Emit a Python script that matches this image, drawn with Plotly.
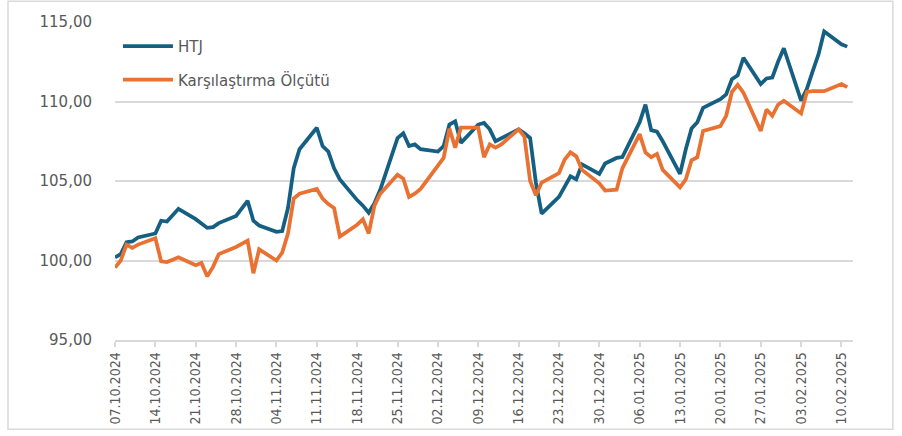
import pandas as pd
import plotly.graph_objects as go

dates = [
    "07.10.2024", "08.10.2024", "09.10.2024", "10.10.2024", "11.10.2024",
    "14.10.2024", "15.10.2024", "16.10.2024", "17.10.2024", "18.10.2024",
    "21.10.2024", "22.10.2024", "23.10.2024", "24.10.2024", "25.10.2024",
    "28.10.2024", "30.10.2024", "31.10.2024", "01.11.2024",
    "04.11.2024", "05.11.2024", "06.11.2024", "07.11.2024", "08.11.2024",
    "11.11.2024", "12.11.2024", "13.11.2024", "14.11.2024", "15.11.2024",
    "18.11.2024", "19.11.2024", "20.11.2024", "21.11.2024", "22.11.2024",
    "25.11.2024", "26.11.2024", "27.11.2024", "28.11.2024", "29.11.2024",
    "02.12.2024", "03.12.2024", "04.12.2024", "05.12.2024", "06.12.2024",
    "09.12.2024", "10.12.2024", "11.12.2024", "12.12.2024", "13.12.2024",
    "16.12.2024", "17.12.2024", "18.12.2024", "19.12.2024", "20.12.2024",
    "23.12.2024", "24.12.2024", "25.12.2024", "26.12.2024", "27.12.2024",
    "30.12.2024", "31.12.2024", "02.01.2025", "03.01.2025",
    "06.01.2025", "07.01.2025", "08.01.2025", "09.01.2025", "10.01.2025",
    "13.01.2025", "14.01.2025", "15.01.2025", "16.01.2025", "17.01.2025",
    "20.01.2025", "21.01.2025", "22.01.2025", "23.01.2025", "24.01.2025",
    "27.01.2025", "28.01.2025", "29.01.2025", "30.01.2025", "31.01.2025",
    "03.02.2025", "04.02.2025", "05.02.2025", "06.02.2025", "07.02.2025",
    "10.02.2025", "11.02.2025",
]

htj = [
    100.2, 100.4, 101.15, 101.2, 101.45,
    101.7, 102.5, 102.45, 102.85, 103.25,
    102.6, 102.35, 102.05, 102.1, 102.35,
    102.8, 103.75, 102.5, 102.2,
    101.8, 101.85, 103.3, 105.8, 107.0,
    108.35, 107.2, 106.85, 105.8, 105.1,
    103.8, 103.45, 103.0, 103.6, 104.45,
    107.7, 108.0, 107.2, 107.3, 107.0,
    106.85, 107.2, 108.55, 108.75, 107.4,
    108.55, 108.65, 108.25, 107.5, 107.7,
    108.25, 108.0, 107.7, 104.9, 102.95,
    104.0, 104.6, 105.3, 105.1, 106.05,
    105.45, 106.1, 106.45, 106.5,
    108.7, 109.8, 108.2, 108.1, 107.5,
    105.45, 107.0, 108.3, 108.7, 109.6,
    110.15, 110.45, 111.4, 111.65, 112.75,
    111.1, 111.45, 111.5, 112.5, 113.35,
    110.05, 110.8, 111.9, 112.95, 114.4,
    113.6, 113.45,
]

olcut = [
    99.55, 100.0, 101.0, 100.8, 101.0,
    101.4, 99.95, 99.9, 100.05, 100.2,
    99.7, 99.85, 99.0, 99.6, 100.4,
    100.85, 101.25, 99.2, 100.7,
    100.0, 100.5, 101.7, 103.9, 104.2,
    104.5, 103.9, 103.55, 103.3, 101.5,
    102.25, 102.6, 101.7, 103.45, 104.2,
    105.4, 105.15, 104.0, 104.2, 104.5,
    106.0, 106.45, 108.3, 107.1, 108.35,
    108.35, 106.5, 107.3, 107.1, 107.3,
    108.25, 107.8, 105.0, 104.1, 104.9,
    105.5, 106.35, 106.8, 106.55, 105.7,
    104.85, 104.4, 104.45, 105.8,
    107.95, 106.8, 106.5, 106.7, 105.7,
    104.6, 105.1, 106.3, 106.5, 108.15,
    108.45, 109.1, 110.6, 111.05, 110.55,
    108.15, 109.5, 109.1, 109.8, 110.05,
    109.25, 110.6, 110.65, 110.65, 110.65,
    111.1, 110.9,
]

tick_labels = [
    "07.10.2024", "14.10.2024", "21.10.2024", "28.10.2024", "04.11.2024",
    "11.11.2024", "18.11.2024", "25.11.2024", "02.12.2024", "09.12.2024",
    "16.12.2024", "23.12.2024", "30.12.2024", "06.01.2025", "13.01.2025",
    "20.01.2025", "27.01.2025", "03.02.2025", "10.02.2025",
]

series_names = ["HTJ", "Karşılaştırma Ölçütü"]
colors = ["#156082", "#E97132"]

x = pd.to_datetime(dates, format="%d.%m.%Y")
tickvals = pd.to_datetime(tick_labels, format="%d.%m.%Y")

fig = go.Figure()
for name, vals, col in zip(series_names, [htj, olcut], colors):
    fig.add_trace(go.Scatter(
        x=x, y=vals, mode="lines", name=name, legendgroup=name,
        line=dict(color=col, width=3.75, shape="linear"),
    ))

grey_text = "#595959"
fig.update_layout(
    width=902, height=436,
    margin=dict(l=115, r=49, t=22, b=94),
    paper_bgcolor="white", plot_bgcolor="white",
    separators=",.",
    font=dict(family="DejaVu Sans", size=15, color=grey_text),
    showlegend=True,
    legend=dict(
        x=0.004, y=0.975, xanchor="left", yanchor="top",
        bgcolor="rgba(0,0,0,0)",
        font=dict(family="DejaVu Sans", size=15, color=grey_text),
        itemwidth=50, traceorder="grouped", tracegroupgap=11,
    ),
    xaxis=dict(
        type="date",
        range=["2024-10-07", "2025-02-12"],
        tickvals=tickvals, ticktext=tick_labels,
        tickangle=-90,
        tickfont=dict(family="DejaVu Sans Condensed", size=14, color=grey_text),
        showgrid=False, zeroline=False,
        showline=True, linecolor="#D9D9D9", linewidth=1.5,
        ticks="outside", ticklen=5, tickcolor="#D9D9D9", tickwidth=1.5,
    ),
    yaxis=dict(
        range=[95, 115], dtick=5, tick0=95,
        tickformat=".2f",
        tickfont=dict(family="DejaVu Sans", size=15, color=grey_text),
        showgrid=True, gridcolor="#D9D9D9", gridwidth=1.5,
        zeroline=False, showline=False,
        ticklabelstandoff=22,
    ),
    shapes=[dict(
        type="rect", xref="paper", yref="paper",
        x0=-0.145, x1=1.054, y0=-0.281, y1=1.065,
        line=dict(color="#D9D9D9", width=1.5), fillcolor="rgba(0,0,0,0)",
        layer="below",
    )],
)

fig.write_html(
    "out.html",
    config={"displayModeBar": False},
    post_script="document.body.style.margin='0';document.body.style.overflow='hidden';",
)
